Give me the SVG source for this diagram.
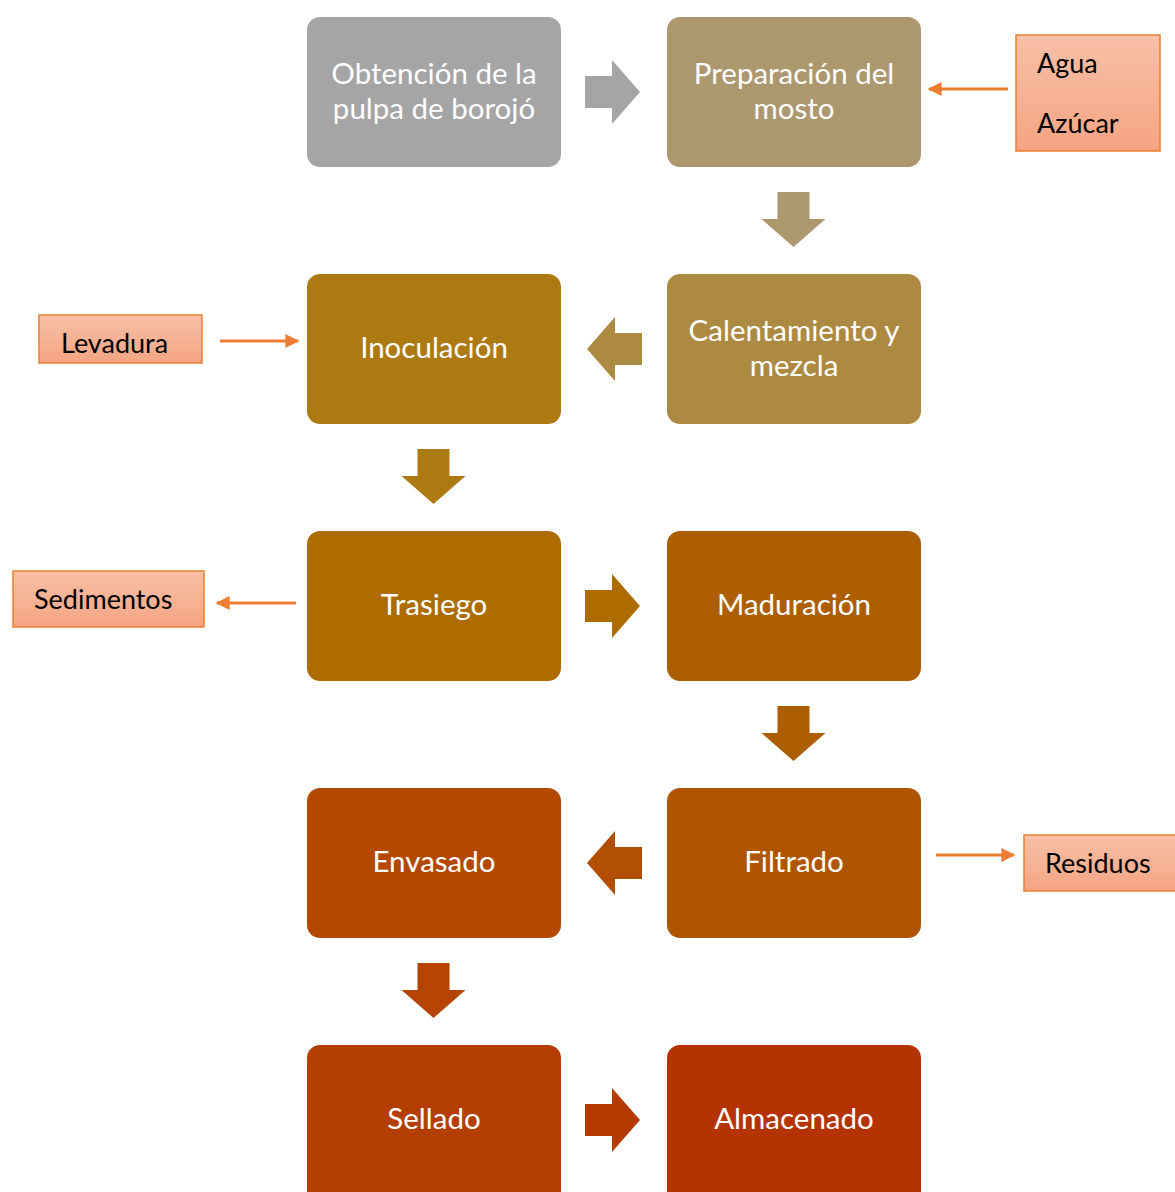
<svg xmlns="http://www.w3.org/2000/svg" width="1175" height="1192" viewBox="0 0 1175 1192">
<defs>
<linearGradient id="sg" x1="0" y1="0" x2="0" y2="1">
<stop offset="0" stop-color="#F7C0A8"/>
<stop offset="1" stop-color="#F4A482"/>
</linearGradient>
<marker id="ah" viewBox="0 0 10 10" refX="9" refY="5" markerWidth="16" markerHeight="14" markerUnits="userSpaceOnUse" orient="auto">
<path d="M0,0 L10,5 L0,10 Z" fill="#ED7D31"/>
</marker>
<path id="ar" d="M-27,-16 L0,-16 L0,-32 L28,0 L0,32 L0,16 L-27,16 Z"/>
</defs>
<style>
.n text{font-family:Lato,"Open Sans",sans-serif;font-size:29.5px;fill:#fff;text-anchor:middle}
.s rect{fill:url(#sg);stroke:#ED7D31;stroke-width:1.5}
.s text{font-family:Lato,"Open Sans",sans-serif;font-size:27px;fill:#000}
.c line{stroke:#ED7D31;stroke-width:3;marker-end:url(#ah)}
</style>
<g id="n1" class="n"><rect x="307" y="17" width="254" height="150" rx="13" fill="#A5A5A5"/><text x="434" y="84">Obtención de la</text><text x="434" y="119">pulpa de borojó</text></g>
<g id="n2" class="n"><rect x="667" y="17" width="254" height="150" rx="13" fill="#AD976E"/><text x="794" y="84">Preparación del</text><text x="794" y="119">mosto</text></g>
<g id="n3" class="n"><rect x="667" y="274" width="254" height="150" rx="13" fill="#AD8A42"/><text x="794" y="341">Calentamiento y</text><text x="794" y="376">mezcla</text></g>
<g id="n4" class="n"><rect x="307" y="274" width="254" height="150" rx="13" fill="#AD7A12"/><text x="434" y="358">Inoculación</text></g>
<g id="n5" class="n"><rect x="307" y="531" width="254" height="150" rx="13" fill="#AD6C00"/><text x="434" y="615">Trasiego</text></g>
<g id="n6" class="n"><rect x="667" y="531" width="254" height="150" rx="13" fill="#AD5E00"/><text x="794" y="615">Maduración</text></g>
<g id="n7" class="n"><rect x="667" y="788" width="254" height="150" rx="13" fill="#AF5500"/><text x="794" y="872">Filtrado</text></g>
<g id="n8" class="n"><rect x="307" y="788" width="254" height="150" rx="13" fill="#B44800"/><text x="434" y="872">Envasado</text></g>
<g id="n9" class="n"><rect x="307" y="1045" width="254" height="160" rx="13" fill="#B43E00"/><text x="434" y="1129">Sellado</text></g>
<g id="n10" class="n"><rect x="667" y="1045" width="254" height="160" rx="13" fill="#B53300"/><text x="794" y="1129">Almacenado</text></g>
<g id="s1" class="s"><rect x="1016" y="35" width="144" height="116"/><text x="1037" y="73">Agua</text><text x="1037" y="133">Azúcar</text></g>
<g id="s2" class="s"><rect x="39" y="315" width="163" height="48"/><text x="61" y="353">Levadura</text></g>
<g id="s3" class="s"><rect x="13" y="571" width="191" height="56"/><text x="34" y="609">Sedimentos</text></g>
<g id="s4" class="s"><rect x="1024" y="835" width="160" height="56"/><text x="1045" y="873">Residuos</text></g>
<g id="connectors">
<g class="flow">
<use href="#ar" transform="translate(612,92)" fill="#A5A5A5"/>
<use href="#ar" transform="translate(793.5,219) rotate(90)" fill="#AD976E"/>
<use href="#ar" transform="translate(615,349) rotate(180)" fill="#AD8A42"/>
<use href="#ar" transform="translate(433.5,476) rotate(90)" fill="#AD7A12"/>
<use href="#ar" transform="translate(612,606)" fill="#AD6C00"/>
<use href="#ar" transform="translate(793.5,733) rotate(90)" fill="#AD5E00"/>
<use href="#ar" transform="translate(615,863) rotate(180)" fill="#B14E00"/>
<use href="#ar" transform="translate(433.5,990) rotate(90)" fill="#B44400"/>
<use href="#ar" transform="translate(612,1120)" fill="#B43A00"/>
</g>
<g class="c">
<line x1="1008" y1="89" x2="929" y2="89"/>
<line x1="220" y1="341" x2="298" y2="341"/>
<line x1="296" y1="603" x2="217" y2="603"/>
<line x1="936" y1="855" x2="1014" y2="855"/>
</g>
</g>
</svg>
